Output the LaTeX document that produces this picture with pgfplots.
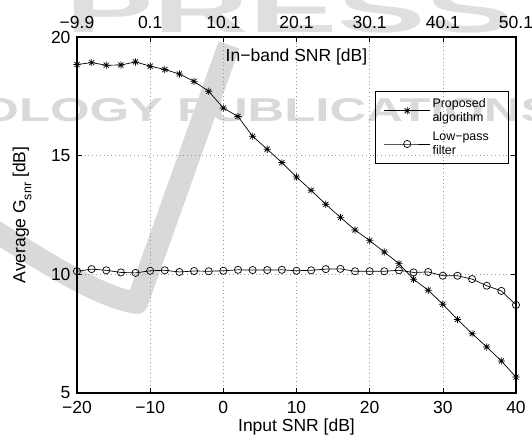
\documentclass[border=0pt]{standalone}
\usepackage{pgfplots}
\pgfplotsset{compat=1.18}
\usepackage{graphicx}
\usepackage{fontspec}
\setmainfont{Liberation Sans}
\definecolor{wm}{gray}{0.85}
\pgfdeclareplotmark{mstar}{%
  \pgfpathmoveto{\pgfpoint{-\pgfplotmarksize}{0pt}}\pgfpathlineto{\pgfpoint{\pgfplotmarksize}{0pt}}%
  \pgfpathmoveto{\pgfpoint{0pt}{-\pgfplotmarksize}}\pgfpathlineto{\pgfpoint{0pt}{\pgfplotmarksize}}%
  \pgfpathmoveto{\pgfpoint{-0.707\pgfplotmarksize}{-0.707\pgfplotmarksize}}\pgfpathlineto{\pgfpoint{0.707\pgfplotmarksize}{0.707\pgfplotmarksize}}%
  \pgfpathmoveto{\pgfpoint{-0.707\pgfplotmarksize}{0.707\pgfplotmarksize}}\pgfpathlineto{\pgfpoint{0.707\pgfplotmarksize}{-0.707\pgfplotmarksize}}%
  \pgfusepathqstroke}

\pgfplotstableread{
x y
-20 18.84
-18 18.92
-16 18.81
-14 18.82
-12 18.95
-10 18.77
-8 18.63
-6 18.44
-4 18.13
-2 17.71
0 17.01
2 16.65
4 15.82
6 15.27
8 14.71
10 14.10
12 13.54
14 12.95
16 12.40
18 11.87
20 11.42
22 10.94
24 10.45
26 9.79
28 9.33
30 8.74
32 8.10
34 7.50
36 6.94
38 6.35
40 5.67
}\proposed

\pgfplotstableread{
x y
-20 10.13
-18 10.22
-16 10.17
-14 10.08
-12 10.06
-10 10.15
-8 10.17
-6 10.10
-4 10.14
-2 10.13
0 10.15
2 10.19
4 10.18
6 10.18
8 10.19
10 10.15
12 10.17
14 10.22
16 10.23
18 10.13
20 10.13
22 10.13
24 10.17
26 10.08
28 10.10
30 9.94
32 9.94
34 9.80
36 9.52
38 9.30
40 8.71
}\lowpass

\begin{document}
\begin{tikzpicture}[x=1pt,y=1pt]
\useasboundingbox (-77,-45) rectangle (455,393);
\begin{scope}
  \clip (-77,-45) rectangle (455,393);
  \node[wm, anchor=base, inner sep=0pt] at (190,271) {\scalebox{1.54}[1]{\fontsize{33}{33}\selectfont\bfseries OLOGY PUBLICATIONS}};
  \node[wm!85!white, anchor=base, inner sep=0pt] at (213,360) {\scalebox{2.1}[1]{\fontsize{63}{63}\selectfont\bfseries PRESS}};
  \draw[wm, line width=22pt, line join=round] (-92,168) .. controls (-40,136) and (20,96) .. (60,90) -- (152,348);
\end{scope}
\begin{axis}[
  at={(0,0)}, anchor=south west,
  scale only axis, width=439pt, height=356pt,
  xmin=-20, xmax=40, ymin=5, ymax=20,
  xtick={-20,-10,...,40}, xticklabels={−20,−10,0,10,20,30,40},
  ytick={5,10,15,20}, yticklabels={5,10,15,20},
  tick align=inside, major tick length=5pt,
  tick style={black, line width=0.6pt},
  grid=major, grid style={gray!80, line width=0.6pt, dash pattern=on 0.8pt off 3pt},
  axis line style={line width=1.1pt},
  tick label style={font=\fontsize{17.5}{20}\selectfont},
  label style={font=\fontsize{17.5}{20}\selectfont},
  xticklabel style={yshift=-5pt},
  yticklabel style={xshift=-3pt},
  xlabel={Input SNR [dB]},
  ylabel={Average G\raisebox{-0.35em}{\fontsize{12.5}{12.5}\selectfont snr} [dB]},
  xlabel style={at={(axis description cs:0.5,-0.0955)}, anchor=center},
  ylabel style={at={(axis description cs:-0.125,0.5)}, anchor=center},
  legend style={at={(0.984,0.848)}, anchor=north east, font=\fontsize{12.4}{14}\selectfont,
    cells={align=left}, draw=black, line width=0.8pt, fill=none, row sep=5pt,
    inner xsep=8pt, inner ysep=5pt},
  legend cell align=left,
  legend image code/.code={\draw[mark repeat=2,mark phase=2,#1] plot coordinates {(0pt,0pt)(23pt,0pt)(46pt,0pt)};},
]
\addplot[black, line width=0.7pt, mark=mstar, mark size=3.6pt] table[x=x,y=y] {\proposed};
\addlegendentry{Proposed\\algorithm\hspace*{15pt}}
\addplot[black, line width=0.7pt, mark=o, mark size=3.6pt] table[x=x,y=y] {\lowpass};
\addlegendentry{Low−pass\\filter}
\end{axis}
\begin{axis}[
  at={(0,0)}, anchor=south west,
  scale only axis, width=439pt, height=356pt,
  xmin=-20, xmax=40, ymin=5, ymax=20,
  axis x line*=top, axis y line=none,
  x axis line style={draw=none},
  xtick={-20,-10,...,40}, xticklabels={−9.9,0.1,10.1,20.1,30.1,40.1,50.1},
  xtick style={draw=none},
  tick label style={font=\fontsize{17.5}{20}\selectfont},
  xticklabel style={yshift=5pt},
]
\node[font=\fontsize{17.5}{20}\selectfont] at (axis description cs:0.5,0.944) {In−band SNR [dB]};
\end{axis}
\end{tikzpicture}
\end{document}
